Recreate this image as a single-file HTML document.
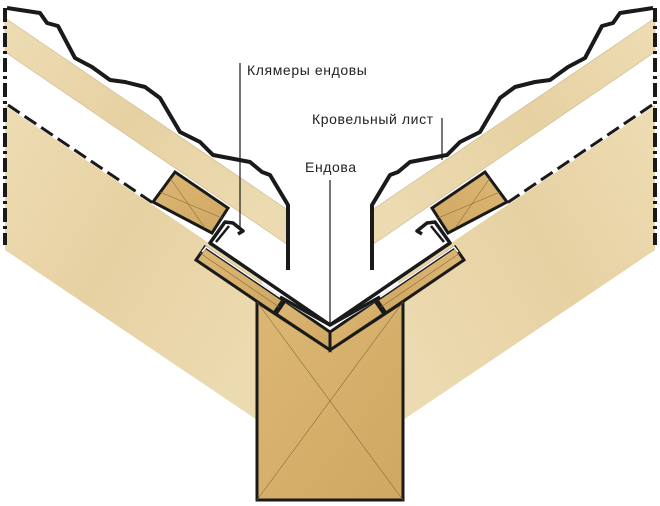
<!DOCTYPE html>
<html><head><meta charset="utf-8"><style>
html,body{margin:0;padding:0;background:#fff;width:660px;height:506px;overflow:hidden}
svg{display:block}
text{font-family:"Liberation Sans","DejaVu Sans",sans-serif;font-size:14px;letter-spacing:0.6px;fill:#222}
</style></head><body>
<svg width="660" height="506" viewBox="0 0 660 506" xmlns="http://www.w3.org/2000/svg">
<defs>
<linearGradient id="wd" x1="0" y1="0" x2="1" y2="0.7">
<stop offset="0" stop-color="#eedcb3"/><stop offset="0.5" stop-color="#e6d1a2"/><stop offset="1" stop-color="#ecdab0"/>
</linearGradient>
<linearGradient id="bk" x1="0" y1="0" x2="1" y2="1">
<stop offset="0" stop-color="#dcb774"/><stop offset="1" stop-color="#cfa862"/>
</linearGradient>
<g id="half">
  <polygon points="5,105 262,279 257,420 5,250" fill="url(#wd)"/>
  <polygon points="5,18 288,210 288,245 5,52" fill="url(#wd)" stroke="#c9b58a" stroke-width="0.6"/>
  <polyline points="7,8 40,13 47,23 58,26 75,58 92,67 110,80 125,82 145,87 160,98 180,132 200,142 213,155 250,162 262,172 270,175 288,205 288,270" fill="none" stroke="#1a1a1a" stroke-width="4" stroke-linejoin="round"/>
  <line x1="5" y1="8" x2="5" y2="245" stroke="#1a1a1a" stroke-width="4" stroke-dasharray="14,4,3,4"/>
  <line x1="8" y1="105" x2="153" y2="203" stroke="#fff" stroke-width="4"/>
  <line x1="8" y1="105" x2="153" y2="203" stroke="#1a1a1a" stroke-width="3" stroke-dasharray="14,6"/>
  <polygon points="153,202 175,172 228,208 212,233" fill="url(#bk)" stroke="#1a1a1a" stroke-width="3"/>
  <line x1="160" y1="192" x2="222" y2="218" stroke="#8a6a3a" stroke-width="0.6"/>
  <line x1="170" y1="178" x2="205" y2="228" stroke="#8a6a3a" stroke-width="0.6"/>
  <polygon points="205,247 283,300 274,313 196,260" fill="url(#bk)" stroke="#1a1a1a" stroke-width="3"/>
  <line x1="200" y1="253" x2="279" y2="307" stroke="#8a6a3a" stroke-width="0.6"/>
  <polyline points="330,325 210,243 225,222 233,223 243,231 238,234" fill="none" stroke="#1a1a1a" stroke-width="3.5" stroke-linejoin="round"/>
  <polyline points="330,331 206,247 202,252" fill="none" stroke="#fff" stroke-width="1.5"/>
  <polyline points="216,242 229,226" fill="none" stroke="#1a1a1a" stroke-width="2.5"/>
</g>
</defs>
<use href="#half"/>
<use href="#half" transform="translate(660,0) scale(-1,1)"/>
<polygon points="257,302 330,350 403,302 403,500 257,500" fill="url(#bk)" stroke="#1a1a1a" stroke-width="3"/>
<line x1="257" y1="302" x2="403" y2="500" stroke="#8a6a3a" stroke-width="0.6"/>
<line x1="403" y1="302" x2="257" y2="500" stroke="#8a6a3a" stroke-width="0.6"/>
<g>
<polygon points="285,301 330,332 330,350 276,314" fill="url(#bk)" stroke="#1a1a1a" stroke-width="3"/>
<polygon points="375,301 330,332 330,350 384,314" fill="url(#bk)" stroke="#1a1a1a" stroke-width="3"/>
<polyline points="282,299 330,328 378,299" fill="none" stroke="#fff" stroke-width="1.5"/>
<polyline points="280,297 330,325 380,297" fill="none" stroke="#1a1a1a" stroke-width="3.5"/>
</g>
<line x1="240" y1="63" x2="240" y2="228" stroke="#1a1a1a" stroke-width="1.2"/>
<text x="247" y="75">Клямеры ендовы</text>
<line x1="442" y1="118" x2="442" y2="160" stroke="#1a1a1a" stroke-width="1.2"/>
<text x="312" y="124">Кровельный лист</text>
<line x1="330" y1="180" x2="330" y2="325" stroke="#1a1a1a" stroke-width="1.2"/>
<text x="305" y="172">Ендова</text>
</svg>
</body></html>
